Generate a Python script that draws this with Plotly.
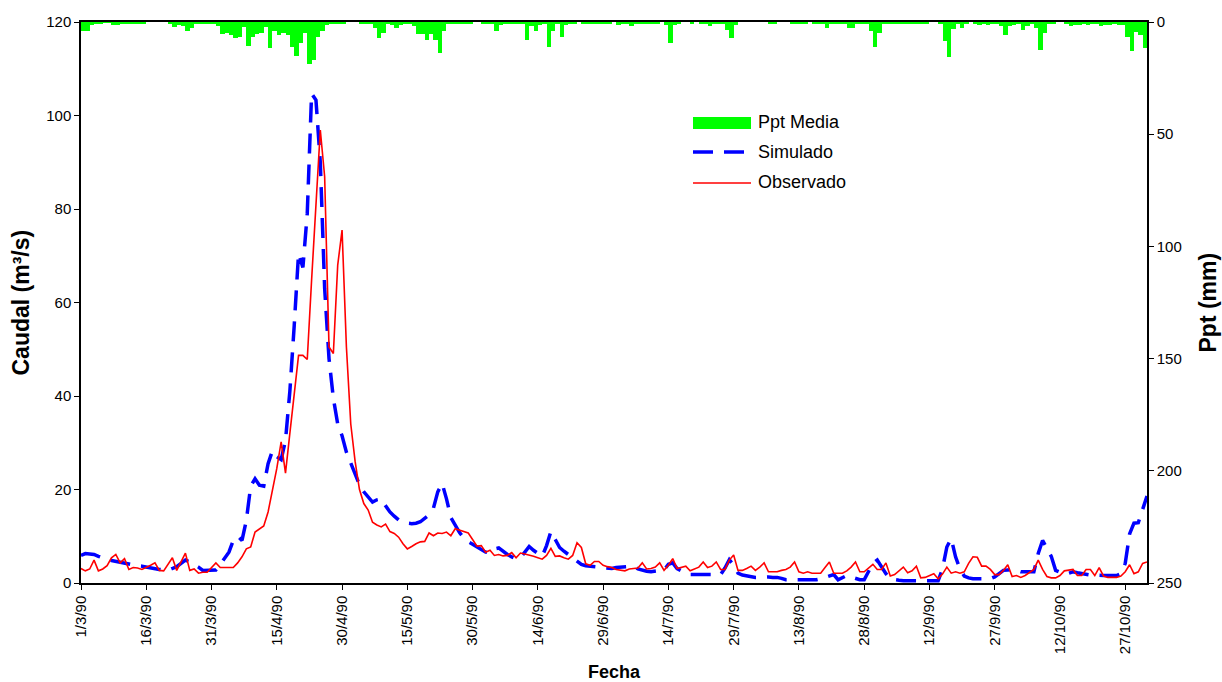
import pandas as pd
import plotly.graph_objects as go

# Daily series, 1 March 1990 onwards
start_date = "1990-03-01"

# Mean areal precipitation (mm), one value per day
ppt_media = [
    3.9, 3.9, 1.5, 0.6, 0.9, 0.3, 0.3, 1.2, 1.2, 0.5,
    0.5, 0.5, 0.5, 0.5, 0.5, 0, 0, 0, 0, 0,
    0.9, 2.2, 1.5, 2.0, 4.0, 2.7, 0.9, 0.9, 0.9, 0.9,
    0.9, 2.0, 5.3, 5.0, 5.8, 7.0, 6.7, 2.4, 10.5, 6.7,
    5.3, 5.0, 2.4, 11.4, 4.2, 5.6, 5.0, 5.6, 11.0, 15.0,
    9.4, 5.0, 18.6, 17.0, 6.5, 4.2, 1.2, 0.6, 0.6, 0.6,
    0.6, 0, 0, 0, 0.9, 0.9, 0.9, 2.7, 7.0, 5.0,
    0.9, 1.2, 2.7, 1.2, 0.9, 0.9, 2.0, 5.2, 5.2, 7.9,
    5.2, 7.9, 13.7, 3.9, 0.9, 0.9, 0.9, 0.9, 0.9, 0.9,
    0, 0, 0.9, 0.9, 0.9, 3.9, 1.5, 0.9, 0.9, 0.9,
    0.9, 0.9, 7.9, 1.8, 3.9, 1.2, 0.9, 11.0, 3.9, 0.9,
    6.5, 1.2, 0.9, 0.9, 0, 0.9, 0.9, 0.9, 0.9, 0.9,
    0.9, 0.9, 0, 1.2, 0.6, 0.6, 2.0, 0.6, 0.6, 0.6,
    0.6, 0.6, 0.6, 0, 1.2, 9.2, 1.2, 0.6, 0, 0,
    0.9, 0, 0.9, 0.9, 2.0, 0.9, 0.9, 0.9, 3.6, 7.0,
    1.2, 0, 0, 0, 0, 0, 0, 0, 0.9, 0.9,
    0, 0, 0, 0.9, 0.9, 0.9, 0.9, 0, 0.9, 0.9,
    0.9, 2.7, 0.9, 0.9, 0.9, 0.9, 2.7, 2.7, 0.6, 0.6,
    0.6, 3.9, 11.0, 4.8, 0.6, 0.6, 0.6, 0.6, 0.6, 0.6,
    0.6, 0.6, 0.6, 0.6, 0.6, 0, 0, 0.9, 8.3, 15.4,
    3.3, 0.6, 2.5, 0.9, 0, 0.9, 1.2, 0.9, 1.2, 0.6,
    0.6, 2.0, 5.6, 2.0, 1.2, 0.6, 3.4, 2.0, 0.6, 2.7,
    12.3, 4.8, 0.6, 0.6, 0, 0, 0.9, 2.0, 1.2, 1.2,
    0.6, 1.2, 0.6, 0.6, 2.0, 1.2, 1.2, 0.9, 1.2, 1.2,
    6.5, 12.8, 4.5, 5.6, 11.4,
]

# Observed discharge (m3/s)
observado = [
    3.1, 2.6, 3.0, 4.9, 2.6, 3.0, 3.7, 5.4, 6.1, 4.3,
    5.2, 2.9, 3.3, 3.2, 2.9, 3.3, 3.8, 4.3, 2.7, 2.6,
    4.1, 5.4, 2.7, 4.5, 6.4, 2.7, 3.0, 2.1, 2.3, 2.3,
    3.2, 4.3, 3.3, 3.3, 3.3, 3.3, 4.3, 5.6, 7.3, 7.7,
    10.9, 11.6, 12.2, 15.2, 19.5, 24.5, 30.2, 23.5, 32.0, 40.5,
    48.7, 48.7, 47.8, 64.8, 79.8, 96.9, 86.9, 50.5, 49.1, 68.0,
    75.5, 50.5, 34.0, 26.0, 20.0, 17.0, 15.6, 13.0, 12.4, 12.0,
    12.6, 11.0, 10.6, 9.8, 8.4, 7.3, 7.8, 8.4, 8.8, 8.9,
    10.7, 10.1, 10.7, 10.6, 10.9, 10.1, 11.6, 11.3, 11.0, 10.7,
    9.3, 7.9, 8.0, 6.6, 7.0, 5.9, 6.1, 5.8, 5.9, 6.5,
    5.4, 6.4, 6.2, 6.0, 5.7, 5.4, 5.1, 5.9, 7.4, 5.7,
    5.8, 5.4, 5.1, 5.9, 8.6, 7.6, 4.1, 3.8, 4.6, 4.6,
    3.8, 3.5, 3.3, 2.9, 2.8, 2.6, 3.0, 3.1, 3.2, 4.3,
    3.0, 3.1, 3.4, 4.3, 2.7, 3.8, 5.2, 3.1, 3.3, 3.6,
    2.6, 3.0, 3.4, 4.5, 3.3, 3.6, 4.5, 2.9, 2.9, 4.9,
    6.0, 2.7, 2.7, 3.1, 3.6, 2.7, 3.4, 4.3, 2.4, 2.4,
    2.4, 2.7, 2.9, 3.4, 4.5, 2.4, 2.1, 2.4, 2.1, 2.1,
    2.1, 3.3, 4.5, 2.1, 2.1, 2.1, 2.6, 3.4, 4.5, 2.4,
    2.4, 3.1, 4.0, 2.9, 2.9, 4.3, 1.5, 1.8, 2.6, 3.4,
    2.2, 2.6, 3.6, 1.1, 1.2, 1.6, 2.0, 0.9, 1.9, 3.4,
    2.1, 2.4, 2.1, 2.4, 4.2, 5.6, 5.5, 3.6, 3.6, 2.9,
    1.8, 1.8, 2.7, 3.9, 1.4, 1.6, 1.2, 1.6, 2.2, 2.9,
    4.9, 2.9, 1.4, 1.1, 1.1, 1.6, 2.6, 2.7, 2.9, 1.6,
    1.6, 2.9, 2.9, 1.6, 3.3, 1.5, 1.2, 1.2, 1.2, 1.5,
    2.4, 3.9, 2.0, 2.4, 4.2, 4.5,
]

# Simulated discharge (m3/s)
simulado = [
    5.9, 6.3, 6.2, 6.1, 5.7, 5.3, 5.0, 4.8, 4.6, 4.4,
    4.3, 4.0, 3.8, 3.7, 3.6, 3.4, 3.2, 3.0, 2.9, 2.8,
    2.7, 3.1, 3.5, 4.2, 4.9, 4.5, 4.0, 3.4, 2.7, 2.7,
    2.7, 2.8, 4.0, 5.3, 6.6, 9.1, 10.0, 9.1, 13.4, 20.7,
    22.3, 20.9, 20.7, 25.5, 28.3, 27.0, 26.4, 30.5, 41.0, 55.0,
    70.5, 67.5, 79.0, 104.7, 103.3, 90.0, 63.0, 48.0, 39.5, 34.0,
    31.5, 28.0, 25.5, 23.0, 21.0, 19.5, 18.3, 17.3, 17.8, 18.0,
    16.5, 15.2, 14.3, 13.5, 13.1, 12.8, 12.7, 12.8, 13.1, 13.8,
    14.6, 16.0, 19.5, 21.3, 18.0, 14.0, 12.3, 10.8, 9.6, 8.8,
    8.3, 7.7, 7.2, 6.6, 6.5, 7.3, 7.5, 6.7, 6.1, 5.6,
    5.2, 5.4, 6.5, 7.8, 7.0, 6.3, 5.7, 8.0, 11.0, 9.3,
    7.6, 6.8, 6.0, 5.4, 4.7, 4.0, 3.7, 3.6, 3.5, 3.4,
    3.4, 3.3, 3.1, 3.3, 3.4, 3.5, 3.5, 3.6, 3.0, 2.7,
    2.5, 2.4, 2.5, 2.6, 2.8, 4.0, 4.3, 3.1, 2.5, 2.1,
    1.8, 1.8, 1.8, 1.8, 1.8, 1.8, 1.8, 1.8, 3.2, 5.0,
    3.8, 2.1, 1.7, 1.5, 1.3, 1.2, 1.2, 1.3, 1.3, 1.2,
    1.2, 1.0, 0.7, 0.7, 0.7, 0.7, 0.7, 0.7, 0.7, 0.7,
    0.9, 1.2, 1.5, 1.8, 0.7, 1.1, 1.6, 1.3, 1.0, 0.7,
    0.7, 2.5, 4.2, 4.9, 3.4, 2.0, 0.9, 0.7, 0.6, 0.5,
    0.5, 0.5, 0.5, 0.5, 0.5, 0.5, 0.5, 0.5, 3.0, 7.7,
    9.5, 5.6, 3.0, 1.5, 1.1, 0.9, 0.9, 0.9, 0.9, 0.9,
    1.3, 2.0, 2.7, 2.8, 2.9, 2.7, 2.4, 2.4, 2.4, 2.4,
    6.3, 9.1, 7.4, 5.7, 2.7, 2.2, 1.9, 2.1, 2.4, 2.2,
    2.0, 1.8, 1.7, 1.7, 1.6, 1.6, 1.6, 1.6, 1.6, 2.0,
    4.2, 10.5, 12.8, 12.9, 16.0, 18.6,
]

# Date tick labels every 15 days
tick_dates = pd.date_range(start_date, "1990-10-27", freq="15D")
tick_labels = [f"{d.day}/{d.month}/{d.year % 100}" for d in tick_dates]

flow_dates = pd.date_range(start_date, periods=len(observado), freq="D")
ppt_dates = pd.date_range(start_date, periods=len(ppt_media), freq="D")

FONT = "Liberation Sans, Arial, sans-serif"
DAY_MS = 86400000

fig = go.Figure()

fig.add_trace(go.Bar(
    x=ppt_dates, y=ppt_media, yaxis="y2", name="Ppt Media",
    marker=dict(color="#00FF00", line=dict(width=0)),
    width=DAY_MS, offset=0, showlegend=False,
))
fig.add_trace(go.Scatter(
    x=flow_dates, y=simulado, mode="lines", name="Simulado",
    line=dict(color="#0000FF", width=3.5, dash="20px,11px"),
    showlegend=False,
))
fig.add_trace(go.Scatter(
    x=flow_dates, y=observado, mode="lines", name="Observado",
    line=dict(color="#FF0000", width=1.6),
    showlegend=False,
))

# plot-area geometry (px) used for the hand-built legend
L, R, T, B = 81, 75, 22, 99
W, H = 1222, 682
pw, ph = W - L - R, H - T - B


def px(x):
    return (x - L) / pw


def py(y):
    return (H - B - y) / ph


shapes = [
    dict(type="rect", xref="paper", yref="paper",
         x0=px(693), x1=px(751), y0=py(129), y1=py(117),
         fillcolor="#00FF00", line=dict(width=0)),
    dict(type="line", xref="paper", yref="paper",
         x0=px(693), x1=px(751), y0=py(152), y1=py(152),
         line=dict(color="#0000FF", width=3.5, dash="20px,11px")),
    dict(type="line", xref="paper", yref="paper",
         x0=px(693), x1=px(751), y0=py(183), y1=py(183),
         line=dict(color="#FF0000", width=1.6)),
]

annotations = []
for label, ycen in [("Ppt Media", 122), ("Simulado", 152), ("Observado", 182)]:
    annotations.append(dict(
        text=label, xref="paper", yref="paper", x=px(756), y=py(ycen),
        xanchor="left", yanchor="middle", showarrow=False,
        font=dict(family=FONT, size=18, color="black"),
    ))

# axis titles
annotations += [
    dict(text="<b>Caudal (m³/s)</b>", xref="paper", yref="paper",
         x=0, y=0.5, xshift=-61, textangle=-90, showarrow=False,
         xanchor="center", yanchor="middle",
         font=dict(family=FONT, size=23, color="black")),
    dict(text="<b>Ppt (mm)</b>", xref="paper", yref="paper",
         x=1, y=0.5, xshift=60, textangle=-90, showarrow=False,
         xanchor="center", yanchor="middle",
         font=dict(family=FONT, size=23, color="black")),
    dict(text="<b>Fecha</b>", xref="paper", yref="paper",
         x=0.5, y=0, yshift=-89, showarrow=False,
         xanchor="center", yanchor="middle",
         font=dict(family=FONT, size=18, color="black")),
]

fig.update_layout(
    width=W, height=H,
    margin=dict(l=L, r=R, t=T, b=B, autoexpand=False),
    paper_bgcolor="white", plot_bgcolor="white",
    font=dict(family=FONT, size=15, color="black"),
    bargap=0,
    showlegend=False,
    shapes=shapes,
    annotations=annotations,
    xaxis=dict(
        type="date",
        range=[start_date, "1990-11-01"],
        tickmode="array", tickvals=tick_dates, ticktext=tick_labels,
        tickangle=-90, ticks="outside", ticklen=5, tickcolor="black",
        showline=True, linecolor="black", linewidth=1.5, mirror=True,
        showgrid=False, zeroline=False, layer="below traces",
        tickfont=dict(family=FONT, size=15),
    ),
    yaxis=dict(
        range=[0, 120], dtick=20, tick0=0,
        ticks="outside", ticklen=5, tickcolor="black",
        showline=True, linecolor="black", linewidth=1.5,
        showgrid=False, zeroline=False,
        tickfont=dict(family=FONT, size=15),
    ),
    yaxis2=dict(
        overlaying="y", side="right",
        range=[250, 0], dtick=50, tick0=0,
        ticks="outside", ticklen=5, tickcolor="black",
        showline=True, linecolor="black", linewidth=1.5,
        showgrid=False, zeroline=False,
        tickfont=dict(family=FONT, size=15),
    ),
)

fig.write_html("out.html")
